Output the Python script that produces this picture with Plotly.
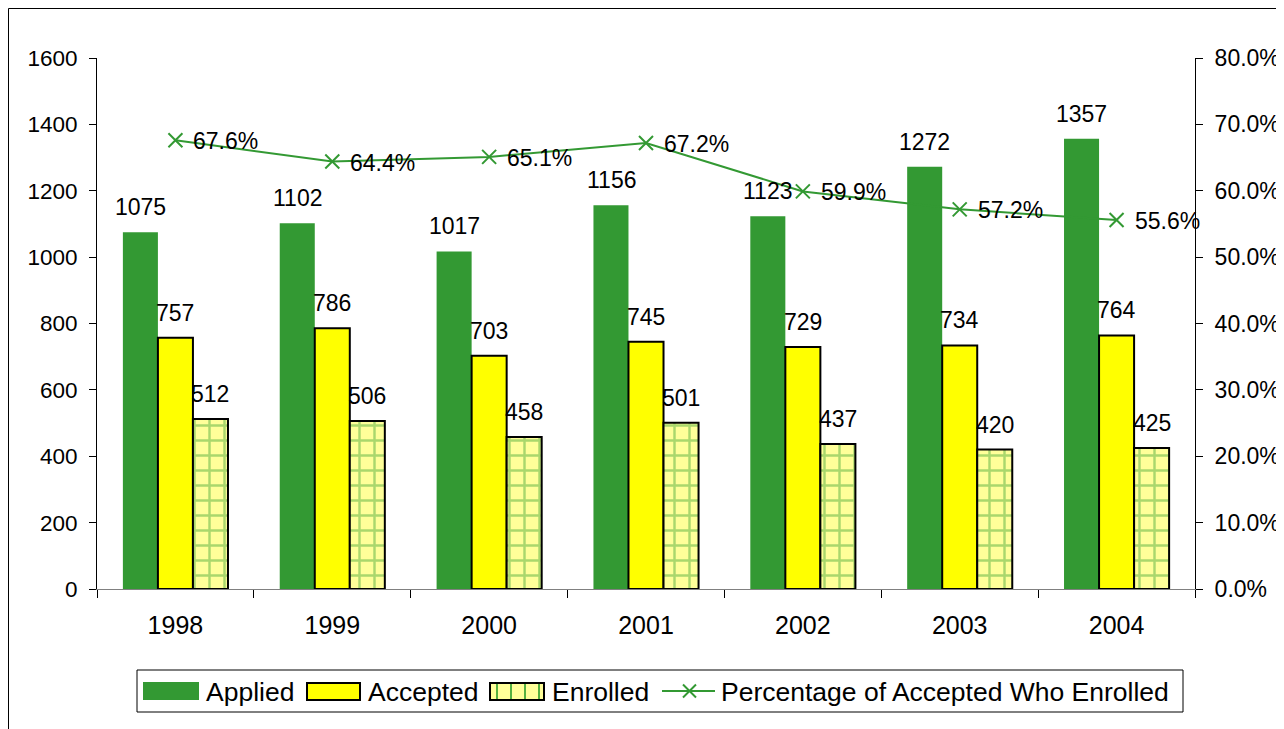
import plotly.graph_objects as go

years = ["1998", "1999", "2000", "2001", "2002", "2003", "2004"]
applied = [1075, 1102, 1017, 1156, 1123, 1272, 1357]
accepted = [757, 786, 703, 745, 729, 734, 764]
enrolled = [512, 506, 458, 501, 437, 420, 425]
pct = [0.676, 0.644, 0.651, 0.672, 0.599, 0.572, 0.556]
pct_labels = ["67.6%", "64.4%", "65.1%", "67.2%", "59.9%", "57.2%", "55.6%"]
series_names = ["Applied", "Accepted", "Enrolled", "Percentage of Accepted Who Enrolled"]

FONT = "Arial, Liberation Sans, sans-serif"
GREEN = "#339933"
GRID_GREEN = "#55B040"

# page pixel -> paper coordinate helpers (plot area spans 97..1195 x, 58..589 y on page)
def px(p):
    return (p - 97) / 1098.0

def py(p):
    return (589 - p) / 531.0

fig = go.Figure()
fig.add_trace(go.Bar(
    x=years, y=applied, name=series_names[0],
    marker=dict(color=GREEN, line=dict(width=0)),
))
fig.add_trace(go.Bar(
    x=years, y=accepted, name=series_names[1],
    marker=dict(color="#FFFF00", line=dict(color="black", width=2)),
))
fig.add_trace(go.Bar(
    x=years, y=enrolled, name=series_names[2],
    marker=dict(color="#FFFF99", line=dict(color="black", width=2),
                pattern=dict(shape="+", fgcolor=GRID_GREEN, bgcolor="#FFFF99",
                             size=15, solidity=0.3, fillmode="overlay")),
))
fig.add_trace(go.Scatter(
    x=years, y=pct, name=series_names[3], yaxis="y2",
    mode="lines+markers",
    line=dict(color=GREEN, width=2),
    marker=dict(symbol="x-thin", size=14, line=dict(color=GREEN, width=2), color=GREEN),
    cliponaxis=False,
))

annotations = []
lab_font = dict(size=23, color="black", family=FONT)
for vals, xs in ((applied, -35), (accepted, 0), (enrolled, 35)):
    for i, v in enumerate(vals):
        annotations.append(dict(x=i, y=v, xref="x", yref="y", text=str(v),
                                showarrow=False, xshift=xs, yshift=25,
                                xanchor="center", yanchor="middle", font=lab_font))
for i, (v, t) in enumerate(zip(pct, pct_labels)):
    annotations.append(dict(x=i, y=v, xref="x", yref="y2", text=t, showarrow=False,
                            xshift=16, yshift=-1, xanchor="left", yanchor="middle",
                            font=lab_font))

# custom legend
leg_font = dict(size=26.5, color="black", family=FONT)
leg_items = [(204, series_names[0]), (366, series_names[1]), (550, series_names[2]),
             (719, series_names[3])]
for xl, name in leg_items:
    annotations.append(dict(x=px(xl), y=py(692), xref="paper", yref="paper", text=name,
                            showarrow=False, xanchor="left", yanchor="middle",
                            font=leg_font))

shapes = [
    # outer chart frame
    dict(type="line", xref="paper", yref="paper", x0=px(8.5), x1=px(1300), y0=py(8.5), y1=py(8.5),
         line=dict(color="black", width=1)),
    dict(type="line", xref="paper", yref="paper", x0=px(8.5), x1=px(8.5), y0=py(8.5), y1=py(740),
         line=dict(color="black", width=1)),
    # legend box
    dict(type="rect", xref="paper", yref="paper", x0=px(137), x1=px(1183), y0=py(712), y1=py(670),
         line=dict(color="black", width=1), fillcolor="white", layer="below"),
    # Applied symbol
    dict(type="rect", xref="paper", yref="paper", x0=px(143), x1=px(199), y0=py(700), y1=py(682),
         line=dict(width=0), fillcolor=GREEN),
    # Accepted symbol
    dict(type="rect", xref="paper", yref="paper", x0=px(307), x1=px(360), y0=py(700), y1=py(683),
         line=dict(color="black", width=2), fillcolor="#FFFF00"),
    # Enrolled symbol
    dict(type="rect", xref="paper", yref="paper", x0=px(490), x1=px(544), y0=py(700), y1=py(683),
         line=dict(color="black", width=2), fillcolor="#FFFF99"),
]
for gx in (497, 511, 525, 539):
    shapes.append(dict(type="line", xref="paper", yref="paper", x0=px(gx), x1=px(gx),
                       y0=py(699), y1=py(684), line=dict(color=GRID_GREEN, width=2)))
shapes.append(dict(type="rect", xref="paper", yref="paper", x0=px(490), x1=px(544),
                   y0=py(700), y1=py(683), line=dict(color="black", width=2)))
# line symbol
shapes.append(dict(type="line", xref="paper", yref="paper", x0=px(662), x1=px(715),
                   y0=py(691), y1=py(691), line=dict(color=GREEN, width=2)))
shapes.append(dict(type="line", xref="paper", yref="paper", x0=px(683), x1=px(696),
                   y0=py(684.5), y1=py(697.5), line=dict(color=GREEN, width=2)))
shapes.append(dict(type="line", xref="paper", yref="paper", x0=px(683), x1=px(696),
                   y0=py(697.5), y1=py(684.5), line=dict(color=GREEN, width=2)))

fig.update_layout(
    width=1276, height=721,
    margin=dict(l=89, r=89, t=50, b=140, autoexpand=False),
    paper_bgcolor="white", plot_bgcolor="white",
    font=dict(family=FONT, size=22, color="black"),
    barmode="group", bargap=0.33, bargroupgap=0,
    showlegend=False,
    xaxis=dict(type="category", range=[-0.5, len(years) - 0.5],
               showline=True, linecolor="#808080", linewidth=1,
               ticks="outside", tickson="boundaries", ticklen=8, tickcolor="black",
               showgrid=False, tickfont=dict(size=25), ticklabelstandoff=14,
               tickangle=0),
    yaxis=dict(range=[0, 1600], dtick=200, showline=True, linecolor="black", linewidth=1,
               ticks="outside", ticklen=7, tickcolor="black", showgrid=False,
               zeroline=False, tickfont=dict(size=22.5), ticklabelstandoff=7),
    yaxis2=dict(range=[0, 0.8], dtick=0.1, tickformat=".1%", overlaying="y", side="right",
                showline=True, linecolor="black", linewidth=1, ticks="outside", ticklen=7,
                tickcolor="black", showgrid=False, zeroline=False, tickfont=dict(size=23),
                ticklabelstandoff=7),
    annotations=annotations,
    shapes=shapes,
)

fig.write_html("out.html")
